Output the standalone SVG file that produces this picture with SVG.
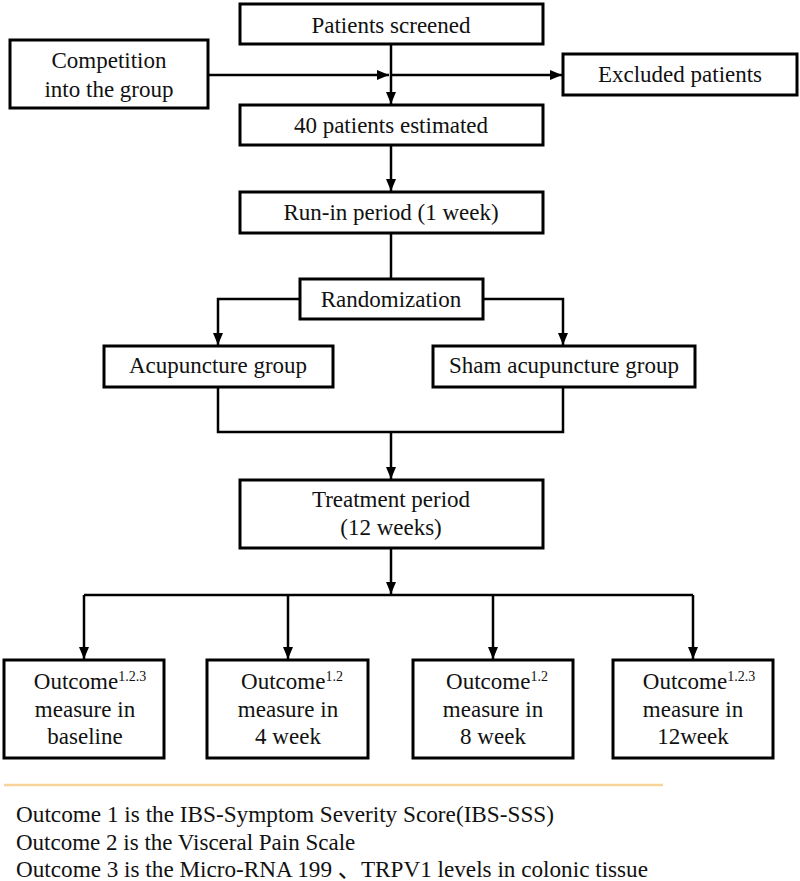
<svg xmlns="http://www.w3.org/2000/svg" width="800" height="881" viewBox="0 0 800 881">
<defs>
<marker id="ah" viewBox="0 0 12 10" refX="12" refY="5" markerWidth="12" markerHeight="10" markerUnits="userSpaceOnUse" orient="auto">
<path d="M0,0 L12,5 L0,10 z" fill="#000"/>
</marker>
</defs>
<style>
.box{fill:#fff;stroke:#000;stroke-width:3}
.t{font-family:"Liberation Serif","Times New Roman",serif;font-size:23px;fill:#111;text-anchor:middle}
.f{font-family:"Liberation Serif","Times New Roman","Noto Sans CJK SC",serif;font-size:23px;fill:#111}
.sup{font-size:14px}
.ln{fill:none;stroke:#000;stroke-width:2.5}
.ar{fill:none;stroke:#000;stroke-width:2.5;marker-end:url(#ah)}
</style>
<rect width="800" height="881" fill="#fff"/>
<g id="connectors">
<line class="ar" x1="391" y1="44" x2="391" y2="104"/>
<line class="ar" x1="208" y1="75" x2="389" y2="75"/>
<line class="ar" x1="391" y1="75" x2="562" y2="75"/>
<line class="ar" x1="391" y1="145" x2="391" y2="191"/>
<line class="ln" x1="391" y1="233" x2="391" y2="279"/>
<polyline class="ar" points="300,299 218,299 218,345"/>
<polyline class="ar" points="483,299 563,299 563,345"/>
<polyline class="ln" points="218,387 218,432 563,432 563,387"/>
<line class="ar" x1="391" y1="432" x2="391" y2="479"/>
<line class="ar" x1="391" y1="548" x2="391" y2="594"/>
<line class="ln" x1="84" y1="595" x2="693" y2="595"/>
<line class="ar" x1="84" y1="595" x2="84" y2="659"/>
<line class="ar" x1="288" y1="595" x2="288" y2="659"/>
<line class="ar" x1="493" y1="595" x2="493" y2="659"/>
<line class="ar" x1="693" y1="595" x2="693" y2="659"/>
</g>
<g id="n-screened"><rect class="box" x="240" y="4" width="303" height="40"/><text class="t" x="391" y="33">Patients screened</text></g>
<g id="n-competition"><rect class="box" x="10" y="40" width="198" height="68"/><text class="t" x="109" y="68">Competition</text><text class="t" x="109" y="97">into the group</text></g>
<g id="n-excluded"><rect class="box" x="563" y="54" width="234" height="41"/><text class="t" x="680" y="82">Excluded patients</text></g>
<g id="n-estimated"><rect class="box" x="240" y="105" width="303" height="40"/><text class="t" x="391" y="133">40 patients estimated</text></g>
<g id="n-runin"><rect class="box" x="240" y="192" width="303" height="41"/><text class="t" x="391" y="220">Run-in period (1 week)</text></g>
<g id="n-random"><rect class="box" x="300" y="279" width="183" height="40"/><text class="t" x="391" y="307">Randomization</text></g>
<g id="n-acu"><rect class="box" x="104" y="346" width="229" height="41"/><text class="t" x="218" y="373">Acupuncture group</text></g>
<g id="n-sham"><rect class="box" x="433" y="346" width="262" height="41"/><text class="t" x="564" y="373">Sham acupuncture group</text></g>
<g id="n-treat"><rect class="box" x="240" y="480" width="303" height="68"/><text class="t" x="391" y="507">Treatment period</text><text class="t" x="391" y="535">(12 weeks)</text></g>
<g id="n-o1"><rect class="box" x="4" y="660" width="160" height="98"/><text class="t" x="90" y="689">Outcome<tspan class="sup" dy="-8">1.2.3</tspan></text><text class="t" x="85" y="717">measure in</text><text class="t" x="85" y="744">baseline</text></g>
<g id="n-o2"><rect class="box" x="207" y="660" width="161" height="98"/><text class="t" x="292" y="689">Outcome<tspan class="sup" dy="-8">1.2</tspan></text><text class="t" x="288" y="717">measure in</text><text class="t" x="288" y="744">4 week</text></g>
<g id="n-o3"><rect class="box" x="413" y="660" width="160" height="98"/><text class="t" x="497" y="689">Outcome<tspan class="sup" dy="-8">1.2</tspan></text><text class="t" x="493" y="717">measure in</text><text class="t" x="493" y="744">8 week</text></g>
<g id="n-o4"><rect class="box" x="613" y="660" width="160" height="98"/><text class="t" x="699" y="689">Outcome<tspan class="sup" dy="-8">1.2.3</tspan></text><text class="t" x="693" y="717">measure in</text><text class="t" x="693" y="744">12week</text></g>
<g id="footnote">
<line x1="4" y1="785" x2="663" y2="785" stroke="#f9d49a" stroke-width="2.5"/>
<text class="f" x="16" y="822" textLength="538" lengthAdjust="spacingAndGlyphs">Outcome 1 is the IBS-Symptom Severity Score(IBS-SSS)</text>
<text class="f" x="16" y="850">Outcome 2 is the Visceral Pain Scale</text>
<text class="f" x="16" y="877" textLength="632" lengthAdjust="spacingAndGlyphs">Outcome 3 is the Micro-RNA 199 、TRPV1 levels in colonic tissue</text>
</g>
</svg>
